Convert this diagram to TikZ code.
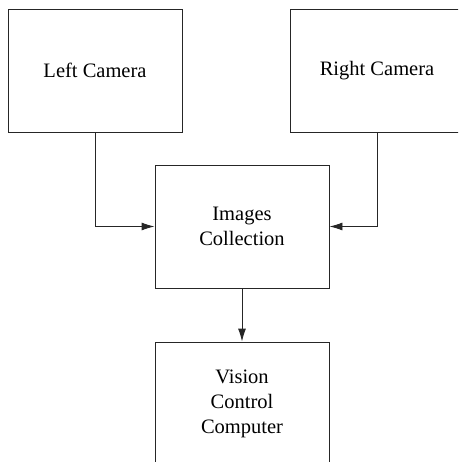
\documentclass[tikz,border=0pt]{standalone}
\usepackage{fontspec}
\setmainfont{Liberation Serif}
\usetikzlibrary{arrows.meta}
\begin{document}
\begin{tikzpicture}[x=1pt,y=1pt,
  blk/.style={draw=black!85, line width=0.9pt, minimum width=174pt, minimum height=123pt, inner sep=0pt, align=center, font=\fontsize{20.5}{25}\selectfont},
  conn/.style={draw=black!85, line width=0.9pt, -{Latex[length=13pt,width=8pt]}}]
\useasboundingbox (0,0) rectangle (458,-462);
\clip (0,0) rectangle (458,-462);
\node[blk] (lc) at (95,-70.5) {Left Camera};
\node[blk] (rc) at (377,-70.5) {Right Camera};
\node[blk] (ic) at (242,-226.5) {Images\\Collection};
\node[blk] (vc) at (242,-403.5) {Vision\\Control\\Computer};
\draw[conn] (lc.south) |- (ic.west);
\draw[conn] (rc.south) |- (ic.east);
\draw[conn] (ic.south) -- (vc.north);
\end{tikzpicture}
\end{document}
